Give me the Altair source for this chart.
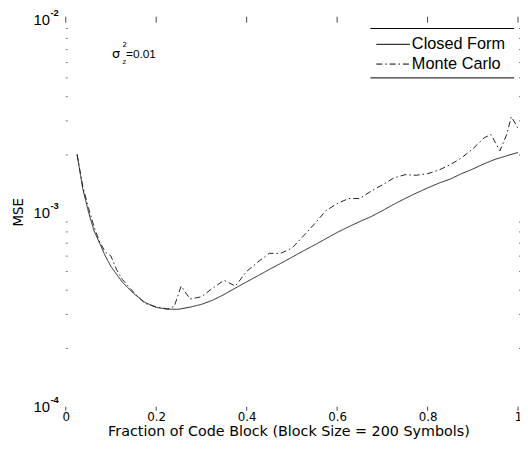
import altair as alt
import pandas as pd

# ---- data ----
cf_x = [0.025, 0.0375, 0.05, 0.0625, 0.075, 0.0875, 0.1, 0.125, 0.15, 0.175, 0.2, 0.225,
        0.25, 0.275, 0.3, 0.325, 0.35, 0.375, 0.4, 0.425, 0.45, 0.475, 0.5, 0.525, 0.55,
        0.575, 0.6, 0.625, 0.65, 0.675, 0.7, 0.725, 0.75, 0.775, 0.8, 0.825, 0.85, 0.875,
        0.9, 0.925, 0.95, 0.975, 1.0]
cf_y = [2.02e-3, 1.34e-3, 1.02e-3, 8.1e-4, 7.0e-4, 6.0e-4, 5.3e-4, 4.4e-4, 3.85e-4, 3.46e-4,
        3.26e-4, 3.19e-4, 3.19e-4, 3.27e-4, 3.38e-4, 3.55e-4, 3.8e-4, 4.1e-4, 4.42e-4,
        4.75e-4, 5.12e-4, 5.5e-4, 5.92e-4, 6.38e-4, 6.85e-4, 7.38e-4, 7.95e-4, 8.5e-4,
        9.05e-4, 9.6e-4, 1.03e-3, 1.11e-3, 1.19e-3, 1.27e-3, 1.35e-3, 1.43e-3, 1.5e-3,
        1.6e-3, 1.69e-3, 1.8e-3, 1.9e-3, 1.98e-3, 2.06e-3]

mc_x = [0.025, 0.0375, 0.05, 0.0625, 0.075, 0.0875, 0.1, 0.1125, 0.125, 0.15, 0.175, 0.2,
        0.225, 0.24, 0.255, 0.275, 0.3, 0.325, 0.35, 0.375, 0.4, 0.425, 0.45, 0.475, 0.5,
        0.525, 0.55, 0.575, 0.6, 0.625, 0.65, 0.675, 0.7, 0.725, 0.75, 0.775, 0.8, 0.825,
        0.85, 0.875, 0.9, 0.925, 0.94, 0.96, 0.975, 0.985, 1.0]
mc_y = [2.0e-3, 1.38e-3, 1.07e-3, 8.5e-4, 7.1e-4, 6.3e-4, 6.0e-4, 5.1e-4, 4.55e-4, 3.9e-4,
        3.42e-4, 3.28e-4, 3.2e-4, 3.3e-4, 4.2e-4, 3.6e-4, 3.7e-4, 4.1e-4, 4.5e-4, 4.2e-4,
        5.0e-4, 5.6e-4, 6.2e-4, 6.2e-4, 6.6e-4, 7.6e-4, 8.8e-4, 1.03e-3, 1.12e-3, 1.19e-3,
        1.19e-3, 1.30e-3, 1.40e-3, 1.52e-3, 1.58e-3, 1.57e-3, 1.6e-3, 1.67e-3, 1.78e-3,
        1.93e-3, 2.15e-3, 2.45e-3, 2.55e-3, 2.1e-3, 2.55e-3, 3.15e-3, 2.75e-3]

series_names = ["Closed Form", "Monte Carlo"]
x_ticks = [0, 0.2, 0.4, 0.6, 0.8, 1.0]
y_major = [1e-2, 1e-3, 1e-4]
y_exps = ["-2", "-3", "-4"]
y_minor = [k * 10.0 ** e for e in (-4, -3) for k in range(2, 10)]

x_title = "Fraction of Code Block (Block Size = 200 Symbols)"
y_title = "MSE"

W, H = 458, 392

df = pd.concat([
    pd.DataFrame({"x": cf_x, "y": cf_y, "s": series_names[0]}),
    pd.DataFrame({"x": mc_x, "y": mc_y, "s": series_names[1]}),
])

xs = alt.Scale(domain=[0, 1], nice=False, zero=False)
ys = alt.Scale(type="log", domain=[1e-4, 1e-2], nice=False)

lines = alt.Chart(df).mark_line(strokeWidth=1, color="#222", clip=True).encode(
    x=alt.X("x:Q", scale=xs,
            axis=alt.Axis(values=x_ticks, format="~g", ticks=False, tickSize=0, domain=False,
                          grid=False, labelFont="DejaVu Sans", labelFontSize=12,
                          labelColor="#000", labelPadding=5, labelFlush=False,
                          labelOverlap=False, title=None)),
    y=alt.Y("y:Q", scale=ys, axis=None),
    strokeDash=alt.StrokeDash("s:N", scale=alt.Scale(domain=series_names,
                                                      range=[[1, 0], [6, 3, 1.5, 3]]),
                              legend=None),
    detail="s:N",
)

xt = pd.DataFrame({"x": x_ticks})
xtick_bot = alt.Chart(xt).mark_rule(color="#444", strokeWidth=1).encode(
    x=alt.X("x:Q", scale=xs), y=alt.value(H), y2=alt.value(H + 4))
xtick_top = alt.Chart(xt).mark_rule(color="#444", strokeWidth=1).encode(
    x=alt.X("x:Q", scale=xs), y=alt.value(-3), y2=alt.value(3))

ym = pd.DataFrame({"y": y_minor})
ytick_l = alt.Chart(ym).mark_rule(color="#777", strokeWidth=1).encode(
    y=alt.Y("y:Q", scale=ys), x=alt.value(0), x2=alt.value(2))
ytick_r = alt.Chart(ym).mark_rule(color="#777", strokeWidth=1).encode(
    y=alt.Y("y:Q", scale=ys), x=alt.value(W + 1), x2=alt.value(W + 3))

yl = pd.DataFrame({"y": y_major, "e": y_exps, "b": ["10"] * 3})
ylab_base = alt.Chart(yl).mark_text(align="right", baseline="middle", font="Liberation Sans",
                                    fontSize=15, color="#000").encode(
    y=alt.Y("y:Q", scale=ys), x=alt.value(-16), text="b:N")
ylab_exp = alt.Chart(yl).mark_text(align="left", baseline="middle", font="Liberation Sans",
                                   fontSize=9.5, fontWeight="bold", dy=-7, color="#000").encode(
    y=alt.Y("y:Q", scale=ys), x=alt.value(-15.5), text="e:N")

def txt(s, x, y, size, **kw):
    return alt.Chart(pd.DataFrame({"t": [s]})).mark_text(
        fontSize=size, color="#000", **kw).encode(
        x=alt.value(x), y=alt.value(y), text="t:N")

xtitle = txt(x_title, W / 2 - 3, 418, 14.5, font="DejaVu Sans", align="center", baseline="middle")
ytitle = txt(y_title, -47, 195, 13.5, font="DejaVu Sans", align="center", baseline="middle", angle=270)

ann = (txt("σ", 51, 35, 13, font="DejaVu Sans", align="center", baseline="middle")
       + txt("2", 57.5, 26, 7, font="DejaVu Sans", align="left", baseline="middle")
       + txt("z", 57.5, 43, 7, font="DejaVu Sans", align="left", baseline="middle")
       + txt("=0.01", 61, 35, 12, font="Liberation Sans", align="left", baseline="middle"))

# legend (drawn by hand)
leg_box = (alt.Chart(pd.DataFrame({"a": [0]})).mark_rule(color="#000", strokeWidth=1).encode(
               x=alt.value(308.5), x2=alt.value(454), y=alt.value(9))
           + alt.Chart(pd.DataFrame({"a": [0]})).mark_rule(color="#000", strokeWidth=1).encode(
               x=alt.value(308.5), x2=alt.value(454), y=alt.value(59)))
leg_l1 = alt.Chart(pd.DataFrame({"a": [0]})).mark_rule(color="#000", strokeWidth=1).encode(
    x=alt.value(314.5), x2=alt.value(348.5), y=alt.value(25))
leg_l2 = alt.Chart(pd.DataFrame({"a": [0]})).mark_rule(color="#000", strokeWidth=1,
                                                       strokeDash=[6, 3, 1.5, 3]).encode(
    x=alt.value(314.5), x2=alt.value(348.5), y=alt.value(45))
leg_t = (txt(series_names[0], 350.5, 25, 16.5, font="Liberation Sans", align="left", baseline="middle")
         + txt(series_names[1], 350.5, 45, 16.5, font="Liberation Sans", align="left", baseline="middle"))

chart = alt.layer(
    lines, xtick_bot, xtick_top, ytick_l, ytick_r, ylab_base, ylab_exp,
    xtitle, ytitle, ann, leg_box, leg_l1, leg_l2, leg_t,
).properties(
    width=W, height=H,
    autosize=alt.AutoSizeParams(type="none"),
    padding={"left": 58.5, "top": 9, "right": 2, "bottom": 38},
    background="white",
).configure_view(stroke=None)

chart.save("out.html", embed_options={"renderer": "svg", "actions": False})
